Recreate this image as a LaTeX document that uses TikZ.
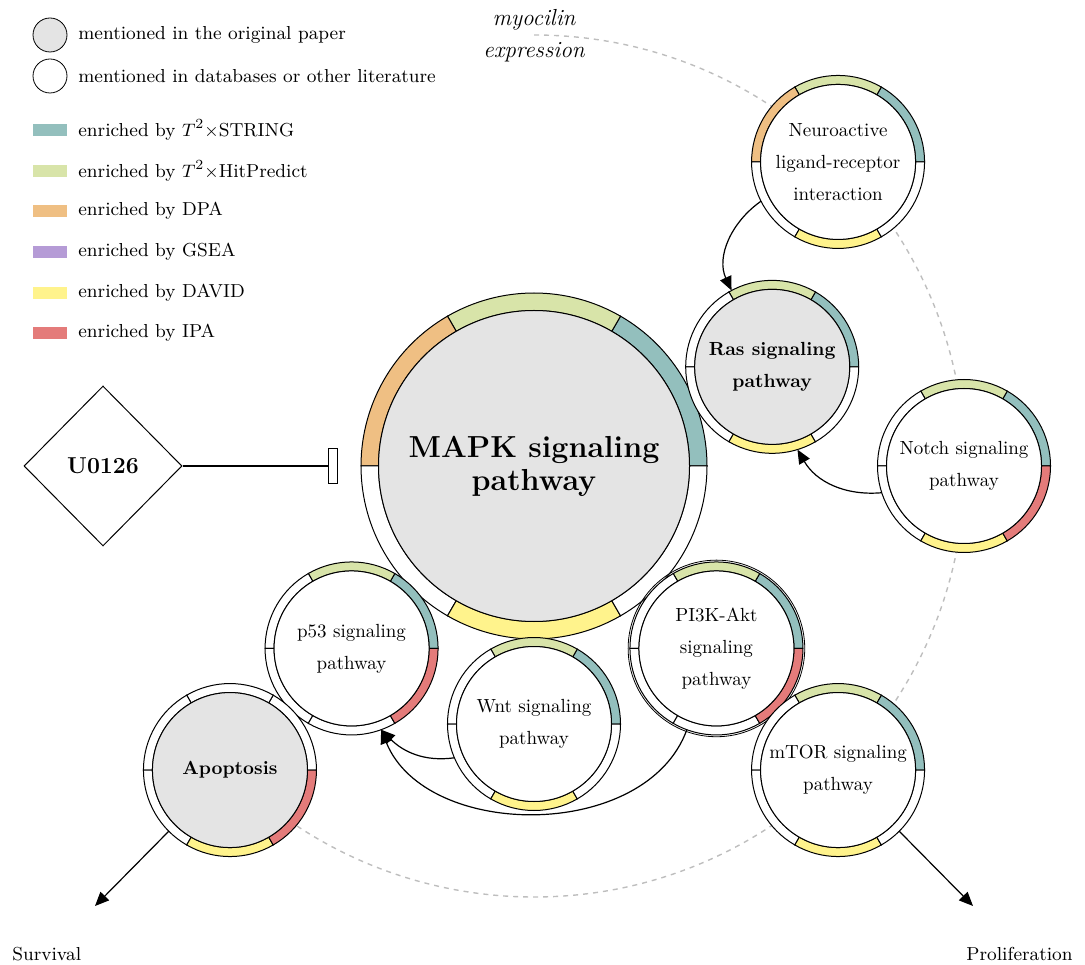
\documentclass[tikz,border=0pt]{standalone}
\usetikzlibrary{shapes.geometric,arrows.meta,calc}
\definecolor{cstring}{HTML}{93BFBD}
\definecolor{chit}{HTML}{D8E4A9}
\definecolor{cdpa}{HTML}{EFBF83}
\definecolor{cgsea}{HTML}{B59BD6}
\definecolor{cdavid}{HTML}{FFF38C}
\definecolor{cipa}{HTML}{E47B7A}
\definecolor{cpaper}{HTML}{E4E4E4}
\definecolor{cdash}{HTML}{BEBEBE}
% #1 centre, #2 outer radius, #3 inner radius, #4 core fill, #5 six segment colours (0,60,...,300 deg)
\newcommand\pathring[5]{%
  \foreach \col [count=\k from 0] in {#5}{%
    \pgfmathsetmacro\sa{60*\k}\pgfmathsetmacro\ea{60*\k+60}%
    \filldraw[ringline, fill=\col] ($(#1)+(\sa:#2)$) arc[start angle=\sa, end angle=\ea, radius=#2]
      -- ($(#1)+(\ea:#3)$) arc[start angle=\ea, end angle=\sa, radius=#3] -- cycle;
  }%
  \filldraw[ringline, fill=#4] (#1) circle[radius=#3];
}
\tikzset{
  ringline/.style={draw=black, line width=0.5pt},
  conn/.style={line width=0.6pt, -{Triangle[length=7pt,width=6pt]}},
  pathlabel/.style={circle, inner sep=0pt, outer sep=0pt, minimum size=86.5pt, align=center,
    font=\fontsize{9.5}{16}\selectfont},
  boldlabel/.style={pathlabel, font=\bfseries\fontsize{9.5}{16}\selectfont},
  legtext/.style={anchor=west, inner sep=0pt, font=\fontsize{9.4}{11}\selectfont},
  legbar/.style={minimum width=17pt, minimum height=6pt, inner sep=0pt},
  legcirc/.style={circle, draw, line width=0.4pt, minimum size=17pt, inner sep=0pt},
  dashline/.style={draw=cdash, line width=0.7pt, dash pattern=on 2.5pt off 2.5pt},
}
\begin{document}
\begin{tikzpicture}[x=0.5pt, y=0.5pt]
\useasboundingbox (0,0) rectangle (1085,964);
% centres
\coordinate (mapk-c) at (534,498);
\coordinate (ras-c) at ($(mapk-c)+(22.6:258)$);
\coordinate (wnt-c) at ($(mapk-c)+(-90:258)$);
\coordinate (p53-c) at ($(mapk-c)+(225:258)$);
\coordinate (pi3k-c) at ($(mapk-c)+(-45:258)$);
\coordinate (neuro-c) at ($(mapk-c)+(45:430)$);
\coordinate (notch-c) at ($(mapk-c)+(0:430)$);
\coordinate (mtor-c) at ($(mapk-c)+(-45:430)$);
\coordinate (apop-c) at ($(mapk-c)+(225:430)$);
% dashed orbit
\draw[dashline] ($(mapk-c)+(90:431)$) arc[start angle=90, end angle=-135, radius=431];
\node[font=\itshape\fontsize{11.6}{16}\selectfont, align=center, inner sep=0pt] (myoc) at (534,928) {myocilin\\expression};
% rings
\pathring{mapk-c}{173}{155.5}{cpaper}{cstring,chit,cdpa,white,cdavid,white}
\pathring{ras-c}{86.5}{77.5}{cpaper}{cstring,chit,white,white,cdavid,white}
\pathring{neuro-c}{86.5}{77.5}{white}{cstring,chit,cdpa,white,cdavid,white}
\pathring{notch-c}{86.5}{77.5}{white}{cstring,chit,white,white,cdavid,cipa}
\pathring{p53-c}{86.5}{77.5}{white}{cstring,chit,white,white,white,cipa}
\pathring{apop-c}{86.5}{77.5}{cpaper}{white,white,white,white,cdavid,cipa}
\pathring{wnt-c}{86.5}{77.5}{white}{cstring,chit,white,white,cdavid,white}
\pathring{pi3k-c}{86.5}{77.5}{white}{cstring,chit,white,white,white,cipa}
\draw[ringline, line width=0.4pt] (pi3k-c) circle[radius=88.3];
\pathring{mtor-c}{86.5}{77.5}{white}{cstring,chit,white,white,cdavid,white}
% labels
\node[pathlabel, minimum size=173pt, font=\bfseries\fontsize{15.2}{16.5}\selectfont] (mapk) at (mapk-c) {MAPK signaling\\pathway};
\node[boldlabel] (ras) at (ras-c) {Ras signaling\\pathway};
\node[pathlabel] (neuro) at (neuro-c) {Neuroactive\\ligand-receptor\\interaction};
\node[pathlabel] (notch) at (notch-c) {Notch signaling\\pathway};
\node[pathlabel] (p53) at (p53-c) {p53 signaling\\pathway};
\node[boldlabel] (apop) at (apop-c) {Apoptosis};
\node[pathlabel] (wnt) at (wnt-c) {Wnt signaling\\pathway};
\node[pathlabel] (pi3k) at (pi3k-c) {PI3K-Akt\\signaling\\pathway};
\node[pathlabel] (mtor) at (mtor-c) {mTOR signaling\\pathway};
% inhibitor
\node[diamond, draw, line width=0.5pt, minimum width=79pt, minimum height=80pt, inner sep=0pt,
  font=\bfseries\fontsize{11.5}{13}\selectfont] (u0126) at (103,498) {U0126};
\node[draw, fill=white, line width=0.5pt, minimum width=4.5pt, minimum height=17.5pt, inner sep=0pt] (ubar) at (333,498) {};
\draw[line width=0.6pt] (u0126.east) -- (ubar.west);
% connectors
\draw[conn] (neuro.207) to[out=215, in=115] (ras.118);
\draw[conn] (notch.198) to[out=185, in=-60] (ras.-73);
\draw[conn] (wnt.203) to[out=188, in=-45] (p53.-70);
\draw[conn] (pi3k.250) to[out=250, in=-68] (p53.-70);
% outputs
\node[anchor=base west, inner sep=0pt, font=\fontsize{9.4}{11}\selectfont] (surv) at (12,4) {Survival};
\node[anchor=base east, inner sep=0pt, font=\fontsize{9.4}{11}\selectfont] (prol) at (1073,4) {Proliferation};
\coordinate (survtip) at (95,58);
\coordinate (proltip) at (973,58);
\draw[conn] (apop.225) -- (survtip);
\draw[conn] (mtor.-45) -- (proltip);
% legend
\node[legcirc, fill=cpaper] (lgpaper) at (50,929) {};
\node[legtext] (lgpapert) at (78,929) {mentioned in the original paper};
\node[legcirc, fill=white] (lgdb) at (50,888) {};
\node[legtext] (lgdbt) at (78,888) {mentioned in databases or other literature};
\node[legbar, fill=cstring] (lgs) at (50,834) {};
\node[legtext] (lgst) at (78,834) {enriched by $T^2\times$STRING};
\node[legbar, fill=chit] (lgh) at (50,793) {};
\node[legtext] (lght) at (78,793) {enriched by $T^2\times$HitPredict};
\node[legbar, fill=cdpa] (lgd) at (50,753) {};
\node[legtext] (lgdt) at (78,753) {enriched by DPA};
\node[legbar, fill=cgsea] (lgg) at (50,712) {};
\node[legtext] (lggt) at (78,712) {enriched by GSEA};
\node[legbar, fill=cdavid] (lgv) at (50,671) {};
\node[legtext] (lgvt) at (78,671) {enriched by DAVID};
\node[legbar, fill=cipa] (lgi) at (50,631) {};
\node[legtext] (lgit) at (78,631) {enriched by IPA};
\end{tikzpicture}
\end{document}
